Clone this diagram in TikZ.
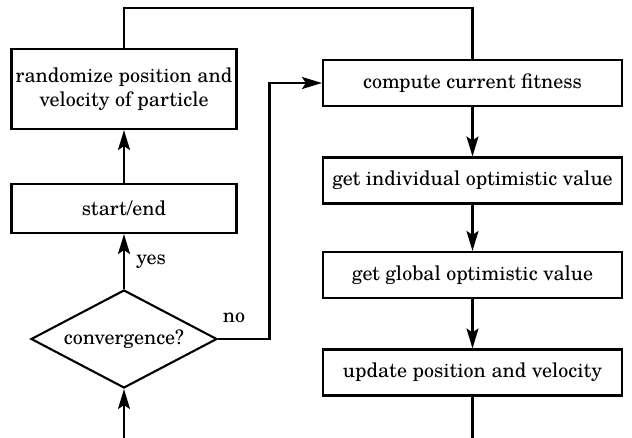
\documentclass[tikz,border=0pt]{standalone}
\usepackage{fontspec}
\setmainfont{TeX Gyre Schola}
\usetikzlibrary{shapes.geometric,arrows.meta}
\begin{document}
\begin{tikzpicture}[x=1pt,y=-1pt,
  every node/.style={font=\fontsize{20}{23.5}\selectfont},
  box/.style={draw,line width=2.1pt,inner sep=0pt,align=center},
  lbox/.style={box,minimum width=225pt},
  rbox/.style={box,minimum width=299pt,minimum height=46pt},
  dec/.style={draw,diamond,aspect=1.9,line width=2.1pt,inner sep=0pt,minimum width=186pt,minimum height=98pt},
  conn/.style={line width=2.1pt},
  arr/.style={conn,-{Stealth[length=20pt,width=12pt,inset=4pt]}},
  lbl/.style={inner sep=0pt}]
\useasboundingbox (0,0) rectangle (632,438);
\node[lbox,minimum height=80pt] (rand) at (124,89) {randomize position and\\velocity of particle};
\node[lbox,minimum height=49pt] (start) at (124,208.5) {start/end};
\node[dec] (conv) at (124,339) {convergence?};
\node[rbox] (comp) at (472.5,83) {compute current fitness};
\node[rbox] (indiv) at (472.5,180.5) {get individual optimistic value};
\node[rbox] (glob) at (472.5,275) {get global optimistic value};
\node[rbox] (upd) at (472.5,372.5) {update position and velocity};
\coordinate (top) at (300,8);
\coordinate (bot) at (300,440);
\coordinate (elbow) at (269.5,339);
\draw[conn] (rand.north) |- (top) -| (comp.north);
\draw[arr] (start) -- (rand);
\draw[arr] (conv.north) -- (start.south);
\draw[arr] (conv.east) -- (elbow) |- (comp.west);
\draw[arr] (comp) -- (indiv);
\draw[arr] (indiv) -- (glob);
\draw[arr] (glob) -- (upd);
\draw[conn] (upd.south) -- (upd.south |- bot);
\draw[arr] (conv.south |- bot) -- (conv.south);
\node[lbl] (yes) at (151,262) {yes};
\node[lbl] (no) at (234,318) {no};
\end{tikzpicture}
\end{document}
